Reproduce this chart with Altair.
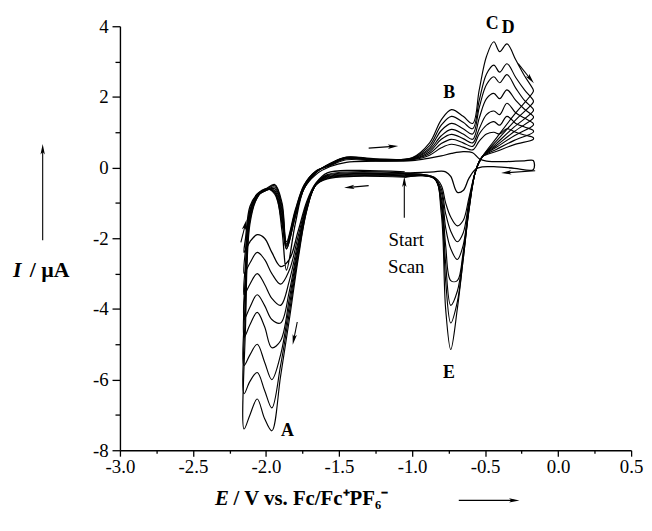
import math
import altair as alt
import pandas as pd

# Potential path shared by every scan cycle (V vs Fc/Fc+), start at -1.05 V, sweep negative first
E_PATH = [-1.05, -1.40, -1.58, -1.66, -1.72, -1.78, -1.84, -1.90, -1.96, -2.01,
          -2.06, -2.11, -2.15, -2.14, -2.11, -2.06, -2.00, -1.94, -1.89, -1.86,
          -1.80, -1.74, -1.66, -1.56, -1.45, -1.25, -1.00, -0.88, -0.80, -0.73,
          -0.65, -0.585, -0.54, -0.49, -0.44, -0.40, -0.35, -0.29, -0.23, -0.17,
          -0.17, -0.30, -0.42, -0.52, -0.565, -0.61, -0.65, -0.69, -0.735, -0.77,
          -0.80, -0.85, -1.05]

# Current (uA) of each cycle along E_PATH
I_CYCLE_1 = [-0.12, -0.08, -0.15, -0.45, -0.95, -1.8, -2.6, -2.8, -2.4, -2.0,
             -1.9, -2.1, -2.4, -2.0, -1.1, -0.75, -0.6, -0.7, -1.8, -2.9,
             -1.6, -0.6, -0.2, 0.03, 0.15, 0.18, 0.2, 0.27, 0.33, 0.4,
             0.45, 0.42, 0.25, 0.18, 0.17, 0.17, 0.17, 0.18, 0.19, 0.2,
             -0.06, -0.02, 0.02, 0.02, -0.05, -0.3, -0.65, -0.7, -0.25, -0.12,
             -0.1, -0.12, -0.15]
I_CYCLE_2 = [-0.15, -0.12, -0.2, -0.46, -1.0, -1.95, -2.9, -3.3, -3.0, -2.6,
             -2.4, -2.7, -3.0, -2.3, -1.2, -0.75, -0.6, -0.48, -1.0, -2.1,
             -1.2, -0.5, -0.1, 0.05, 0.22, 0.19, 0.22, 0.35, 0.56, 0.66,
             0.58, 0.5, 0.75, 0.95, 1.0, 0.95, 1.1, 1.0, 0.92, 0.85,
             0.8, 0.65, 0.46, 0.3, -0.1, -0.85, -1.5, -1.65, -1.4, -1.0,
             -0.5, -0.27, -0.16]
I_CYCLE_3 = [-0.17, -0.15, -0.22, -0.48, -1.05, -2.1, -3.2, -3.9, -3.7, -3.3,
             -3.0, -3.3, -3.6, -2.7, -1.25, -0.78, -0.63, -0.5, -1.1, -2.15,
             -1.25, -0.5, -0.11, 0.07, 0.25, 0.2, 0.23, 0.4, 0.68, 0.8,
             0.7, 0.6, 0.95, 1.2, 1.3, 1.2, 1.45, 1.25, 1.15, 1.05,
             1.0, 0.77, 0.52, 0.3, -0.1, -0.95, -1.85, -2.1, -1.8, -1.3,
             -0.6, -0.28, -0.18]
I_CYCLE_4 = [-0.19, -0.17, -0.24, -0.5, -1.1, -2.2, -3.5, -4.4, -4.3, -3.9,
             -3.6, -3.95, -4.3, -3.0, -1.3, -0.8, -0.65, -0.55, -1.2, -2.2,
             -1.3, -0.55, -0.12, 0.08, 0.26, 0.21, 0.24, 0.45, 0.8, 0.94,
             0.82, 0.7, 1.1, 1.5, 1.6, 1.5, 1.82, 1.55, 1.4, 1.25,
             1.2, 0.9, 0.58, 0.3, -0.1, -1.05, -2.2, -2.6, -2.3, -1.7,
             -0.7, -0.3, -0.2]
I_CYCLE_5 = [-0.21, -0.19, -0.26, -0.5, -1.1, -2.3, -3.7, -4.9, -5.1, -4.5,
             -4.1, -4.45, -4.8, -3.2, -1.35, -0.8, -0.65, -0.6, -1.3, -2.2,
             -1.3, -0.55, -0.13, 0.09, 0.27, 0.22, 0.25, 0.5, 0.9, 1.08,
             0.95, 0.8, 1.4, 1.95, 2.1, 1.95, 2.2, 1.9, 1.65, 1.45,
             1.4, 1.02, 0.63, 0.3, -0.1, -1.1, -2.4, -3.2, -3.2, -2.2,
             -0.85, -0.3, -0.22]
I_CYCLE_6 = [-0.23, -0.21, -0.28, -0.5, -1.15, -2.4, -3.9, -5.3, -6.0, -5.5,
             -5.0, -5.3, -5.6, -3.6, -1.4, -0.8, -0.62, -0.65, -1.4, -2.25,
             -1.35, -0.58, -0.14, 0.1, 0.28, 0.23, 0.26, 0.55, 1.05, 1.25,
             1.1, 0.95, 1.7, 2.35, 2.57, 2.4, 2.63, 2.25, 1.9, 1.65,
             1.6, 1.15, 0.69, 0.3, -0.1, -1.15, -2.5, -3.5, -3.9, -2.7,
             -0.95, -0.3, -0.24]
I_CYCLE_7 = [-0.25, -0.23, -0.3, -0.5, -1.2, -2.5, -4.1, -5.6, -6.8, -6.3,
             -5.8, -6.05, -6.4, -4.0, -1.5, -0.85, -0.62, -0.7, -1.5, -2.3,
             -1.4, -0.6, -0.15, 0.11, 0.29, 0.24, 0.27, 0.62, 1.2, 1.45,
             1.28, 1.1, 1.9, 2.65, 2.9, 2.7, 2.94, 2.55, 2.2, 1.9,
             1.85, 1.31, 0.76, 0.3, -0.1, -1.2, -2.6, -3.8, -4.4, -3.2,
             -1.1, -0.3, -0.26]
I_CYCLE_8 = [-0.27, -0.25, -0.32, -0.5, -1.2, -2.6, -4.3, -5.9, -7.45, -7.1,
             -6.55, -7.0, -7.4, -4.5, -1.6, -0.85, -0.6, -0.75, -1.6, -2.3,
             -1.4, -0.6, -0.15, 0.12, 0.3, 0.25, 0.28, 0.7, 1.35, 1.64,
             1.45, 1.25, 2.2, 3.15, 3.56, 3.28, 3.5, 3.05, 2.6, 2.2,
             2.15, 1.5, 0.85, 0.3, -0.1, -1.2, -2.6, -4.0, -5.15, -4.0,
             -1.3, -0.3, -0.28]
CYCLES = [I_CYCLE_1, I_CYCLE_2, I_CYCLE_3, I_CYCLE_4, I_CYCLE_5, I_CYCLE_6, I_CYCLE_7, I_CYCLE_8]

X_MAJOR = [-3.0, -2.5, -2.0, -1.5, -1.0, -0.5, 0.0, 0.5]
X_MINOR = [-2.75, -2.25, -1.75, -1.25, -0.75, -0.25, 0.25]
Y_MAJOR = [-8, -6, -4, -2, 0, 2, 4]
Y_MINOR = [-7, -5, -3, -1, 1, 3]

# Peak labels
PEAK_TEXT = ["A", "B", "C", "D", "E"]
PEAK_E = [-1.854, -0.746, -0.452, -0.341, -0.748]
PEAK_I = [-7.47, 2.10, 4.07, 3.95, -5.82]

NOTE_TEXT = ["Start", "Scan"]
NOTE_E = [-1.040, -1.040]
NOTE_I = [-2.06, -2.81]

# Arrows: tail (E, I) -> head (E2, I2)
ARROW_E = [-1.297, -1.297, -2.172, -1.786, -0.273, -0.157, -1.053, -3.529, -0.680]
ARROW_I = [0.55, -0.51, -2.12, -4.37, 2.94, -0.09, -1.42, -2.06, -9.42]
ARROW_E2 = [-1.130, -1.430, -2.142, -1.810, -0.188, -0.355, -1.053, -3.529, -0.300]
ARROW_I2 = [0.60, -0.56, -1.62, -4.87, 2.50, -0.145, -0.40, 0.52, -9.42]

W, H = 516, 428
PX_PER_V = W / 3.5
PX_PER_UA = H / 12.0

rows = []
for k, vals in enumerate(CYCLES):
    for i, (e, cur) in enumerate(zip(E_PATH, vals)):
        rows.append({"E": e, "I": cur, "step": i, "cycle": k})
df = pd.DataFrame(rows)

arrows = pd.DataFrame({"E": ARROW_E, "I": ARROW_I, "E2": ARROW_E2, "I2": ARROW_I2})
arrows["angle"] = [
    (math.degrees(math.atan2((e2 - e1) * PX_PER_V, (i2 - i1) * PX_PER_UA)) + 360) % 360
    for e1, i1, e2, i2 in zip(ARROW_E, ARROW_I, ARROW_E2, ARROW_I2)
]

peaks = pd.DataFrame({"E": PEAK_E, "I": PEAK_I, "t": PEAK_TEXT})
notes = pd.DataFrame({"E": NOTE_E, "I": NOTE_I, "t": NOTE_TEXT})
titles_it = pd.DataFrame({"E": [-2.349, -3.7325], "I": [-9.38, -2.90], "t": ["E", "I"], "s": [21, 22]})
titles_bd = pd.DataFrame({"E": [-2.222, -3.618], "I": [-9.38, -2.90],
                          "t": ["/ V vs. Fc/Fc\u207aPF\u2086\u207b", "/ \u00b5A"], "s": [21, 22]})
minor = pd.DataFrame({"E": [-1.0], "I": [0.0]})

FONT = "Liberation Serif"
ARROW_HEAD = "M0,-1L0.42,1L0,0.55L-0.42,1Z"
xs = alt.Scale(domain=[-3.0, 0.5], nice=False, zero=False)
ys = alt.Scale(domain=[-8, 4], nice=False, zero=False)

x_axis = alt.Axis(
    values=X_MAJOR, title=None, grid=False, orient="bottom",
    domainColor="black", domainWidth=1.4, tickColor="black", tickWidth=1.3, tickSize=6,
    labelExpr="replace(format(datum.value, '.1f'), '\u2212', '-')",
    labelFont=FONT, labelFontSize=19, labelColor="black", labelPadding=1,
    labelOverlap=False, labelFlush=False,
)
y_axis = alt.Axis(
    values=Y_MAJOR, title=None, grid=False, orient="left",
    domainColor="black", domainWidth=1.4, tickColor="black", tickWidth=1.3, tickSize=8,
    labelExpr="replace(format(datum.value, 'd'), '\u2212', '-')",
    labelFont=FONT, labelFontSize=19, labelColor="black", labelPadding=4,
    labelOverlap=False, labelFlush=False,
)
x_minor_axis = alt.Axis(
    values=X_MINOR, title=None, grid=False, orient="bottom", labels=False, domain=False,
    tickColor="black", tickWidth=1.3, tickSize=3,
)
y_minor_axis = alt.Axis(
    values=Y_MINOR, title=None, grid=False, orient="left", labels=False, domain=False,
    tickColor="black", tickWidth=1.3, tickSize=5,
)

X = alt.X("E:Q", scale=xs, axis=x_axis)
Y = alt.Y("I:Q", scale=ys, axis=y_axis)

later = alt.Chart(df[df.cycle > 0]).mark_line(
    interpolate="catmull-rom", color="black", strokeWidth=1.15
).encode(x=X, y=Y, detail="cycle:N", order="step:Q")

first = alt.Chart(df[df.cycle == 0]).mark_line(
    interpolate="catmull-rom", color="black", strokeWidth=1.3
).encode(x=X, y=Y, order="step:Q")

shafts = alt.Chart(arrows).mark_rule(color="black", strokeWidth=1.1).encode(
    x=X, y=Y, x2="E2:Q", y2="I2:Q"
)
heads = alt.Chart(arrows).mark_point(
    shape=ARROW_HEAD, filled=True, color="black", size=110, opacity=1, strokeWidth=0
).encode(x=alt.X("E2:Q", scale=xs, axis=x_axis), y=alt.Y("I2:Q", scale=ys, axis=y_axis),
         angle=alt.Angle("angle:Q", scale=None))

peak_txt = alt.Chart(peaks).mark_text(
    font=FONT, fontSize=18, fontWeight="bold", color="black", baseline="middle"
).encode(x=X, y=Y, text="t:N")

note_txt = alt.Chart(notes).mark_text(
    font=FONT, fontSize=19, color="black", baseline="middle"
).encode(x=X, y=Y, text="t:N")

it_txt = alt.Chart(titles_it).mark_text(
    font=FONT, fontWeight="bold", fontStyle="italic", color="black",
    baseline="middle", align="left"
).encode(x=X, y=Y, text="t:N", size=alt.Size("s:Q", scale=None, legend=None))

bd_txt = alt.Chart(titles_bd).mark_text(
    font=FONT, fontWeight="bold", color="black", baseline="middle", align="left"
).encode(x=X, y=Y, text="t:N", size=alt.Size("s:Q", scale=None, legend=None))

main = alt.layer(later, first, shafts, heads, peak_txt, note_txt, it_txt, bd_txt)

minor_layer = alt.Chart(minor).mark_point(opacity=0).encode(
    x=alt.X("E:Q", scale=xs, axis=x_minor_axis),
    y=alt.Y("I:Q", scale=ys, axis=y_minor_axis),
)

chart = alt.layer(main, minor_layer).resolve_axis(x="independent", y="independent").properties(
    width=W, height=H,
    autosize=alt.AutoSizeParams(type="none"),
    padding={"left": 113, "top": 16, "right": 13, "bottom": 68},
    background="white",
).configure_view(stroke=None)

chart.save("out.html", embed_options={"renderer": "svg", "actions": False})
